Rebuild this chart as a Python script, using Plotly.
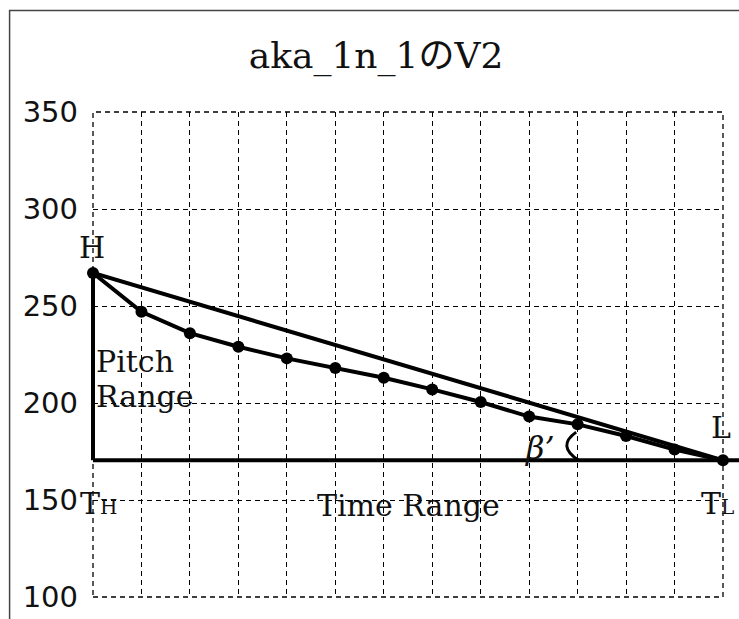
import plotly.graph_objects as go

# ---- data ----
time_index = list(range(14))
pitch_v2 = [267, 247, 236, 229, 223, 218, 213, 207, 200.5, 193, 189, 183, 176, 170.5]
y_ticks = [100, 150, 200, 250, 300, 350]
title_text = "aka_1n_1のV2"

Y_MIN, Y_MAX = 100, 350
X_MIN, X_MAX = time_index[0], time_index[-1]

h_val = pitch_v2[0]
l_val = pitch_v2[-1]
x_h = time_index[0]
x_l = time_index[-1]

SERIF = "DejaVu Serif, Noto Sans CJK JP, serif"
SANS = "DejaVu Sans, sans-serif"
BLK = "#000000"
TXT = "#111111"

def ypaper(v):
    return (v - Y_MIN) / (Y_MAX - Y_MIN)

fig = go.Figure()

# straight line H -> L
fig.add_trace(go.Scatter(x=[x_h, x_l], y=[h_val, l_val], mode="lines",
                         line=dict(color=BLK, width=4), hoverinfo="skip"))
# pitch contour
fig.add_trace(go.Scatter(x=time_index, y=pitch_v2, mode="lines+markers",
                         line=dict(color=BLK, width=4),
                         marker=dict(color=BLK, size=12), cliponaxis=False))

shapes = []
# dashed plot frame (grid edges)
shapes.append(dict(type="rect", xref="paper", yref="paper", x0=0, x1=1, y0=0, y1=1,
                   line=dict(color=BLK, width=1.3, dash="5px,4px"), layer="below"))
# vertical pitch range line (H down to baseline)
shapes.append(dict(type="line", xref="paper", yref="paper",
                   x0=0, x1=0, y0=ypaper(l_val), y1=ypaper(h_val),
                   line=dict(color=BLK, width=4)))
# baseline (time range), extending past the plot edge
shapes.append(dict(type="line", xref="paper", yref="paper",
                   x0=0, x1=1.1, y0=ypaper(l_val), y1=ypaper(l_val),
                   line=dict(color=BLK, width=4)))
# angle arc near point 10
ia = 10
xa = time_index[ia]
arc_top = pitch_v2[ia] - 4
arc_mid_y = (arc_top + l_val) / 2
path = f"M {xa - 0.03},{arc_top} Q {xa - 0.44},{arc_mid_y} {xa + 0.02},{l_val}"
shapes.append(dict(type="path", xref="x", yref="y", path=path,
                   line=dict(color=BLK, width=3)))
# outer frame (left & top edges visible)
shapes.append(dict(type="rect", xref="paper", yref="paper",
                   x0=-0.1324, x1=1.3, y0=-0.3, y1=1.2095,
                   line=dict(color="#444444", width=1.5), layer="below"))

annotations = []
def ann(x, y, text, size=30, xanchor="center", yanchor="middle", xshift=0, font=SERIF):
    annotations.append(dict(x=x, y=y, xref="x", yref="y", text=text, showarrow=False,
                            xanchor=xanchor, yanchor=yanchor, xshift=xshift,
                            font=dict(family=font, size=size, color=TXT)))

SUB = "<span style='font-size:20px'>{}</span>"
ann(x_h, 280, "H", xshift=-1)
ann(0.03, 221.5, "Pitch", xanchor="left")
ann(0.03, 203.5, "Range", xanchor="left")
ann(x_h, 148, "T" + SUB.format("H"), xanchor="left", xshift=-15)
ann(6.52, 147, "Time Range")
ann(12.5, 148, "T" + SUB.format("L"), xanchor="left")
ann(12.95, 187.5, "L")
ann(9.22, 177, "<i>β’</i>", size=32)

fig.update_layout(
    width=739, height=619,
    margin=dict(l=93, r=16, t=112, b=22),
    paper_bgcolor="white", plot_bgcolor="white",
    showlegend=False,
    title=dict(text=title_text, x=376 / 739, xref="container", xanchor="center",
               y=1 - 55 / 619, yref="container", yanchor="middle",
               font=dict(family=SERIF, size=36, color=TXT)),
    xaxis=dict(range=[X_MIN, X_MAX], tickmode="linear", tick0=0, dtick=1,
               showticklabels=False, ticks="", showgrid=True, gridcolor=BLK,
               gridwidth=1.3, griddash="5px,4px", zeroline=False, showline=False,
               automargin=False),
    yaxis=dict(range=[Y_MIN, Y_MAX], tickmode="array", tickvals=y_ticks,
               ticktext=[str(v) for v in y_ticks], ticks="", ticklabelstandoff=14,
               showgrid=True, gridcolor=BLK, gridwidth=1.3, griddash="5px,4px",
               zeroline=False, showline=False, automargin=False,
               tickfont=dict(family=SANS, size=29, color=TXT)),
    shapes=shapes, annotations=annotations,
)

fig.write_html("out.html")
